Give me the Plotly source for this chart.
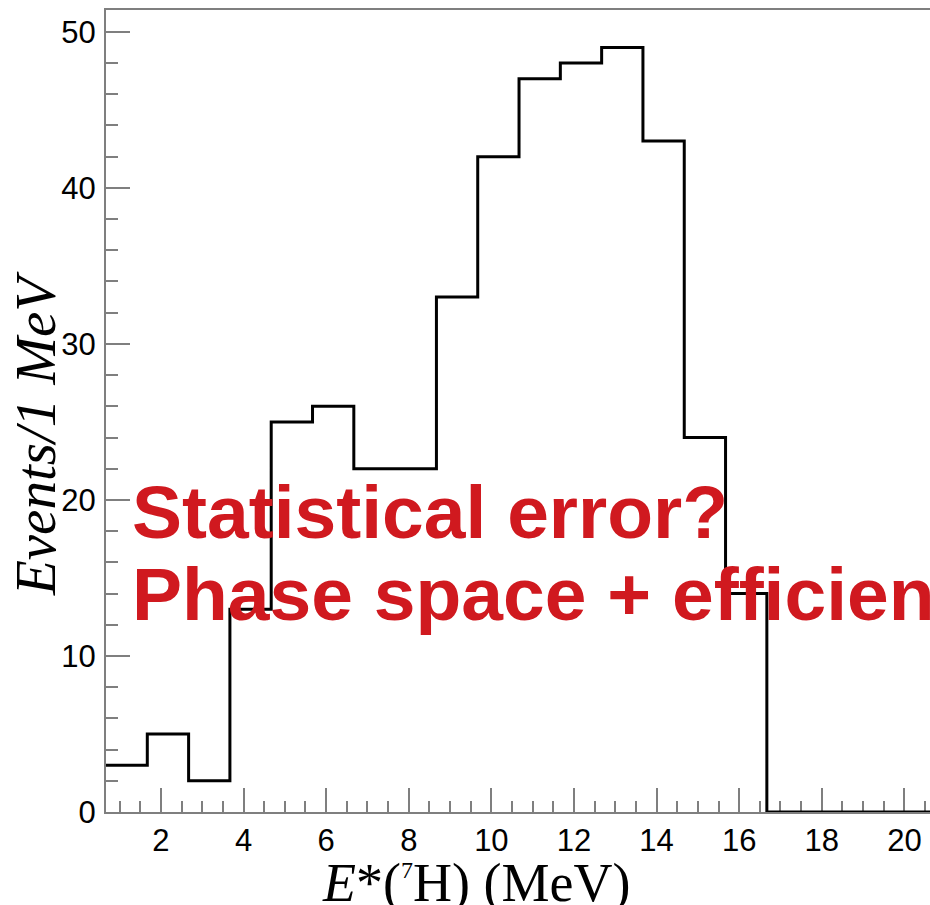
import plotly.graph_objects as go

# Histogram data (1 MeV bins)
bin_edges = [0.67, 1.67, 2.67, 3.67, 4.67, 5.67, 6.67, 7.67, 8.67, 9.67, 10.67,
             11.67, 12.67, 13.67, 14.67, 15.67, 16.67, 17.67, 18.67, 19.67, 20.67]
counts = [3, 5, 2, 13, 25, 26, 22, 22, 33, 42, 47, 48, 49, 43, 24, 14, 0, 0, 0, 0]

x_tick_vals = [2, 4, 6, 8, 10, 12, 14, 16, 18, 20]
y_tick_vals = [0, 10, 20, 30, 40, 50]

x_title = "<i>E</i>*(<sup><span style='font-size:24px'>7</span></sup>H) (MeV)"
y_title = "<i>Events/1 MeV</i>"
note_line1 = "Statistical error?"
note_line2 = "Phase space + efficiency"

W, H = 930, 905
L, R, T, B = 106, 0, 10, 93
pw = W - L - R
ph = H - T - B


def px_x(p):
    return (p - L) / pw


def px_y(p):
    return (H - B - p) / ph


fig = go.Figure()
fig.add_trace(go.Scatter(
    x=bin_edges,
    y=counts + [counts[-1]],
    mode="lines",
    line=dict(shape="hv", color="black", width=3),
    cliponaxis=False,
    showlegend=False,
    hoverinfo="skip",
))

axis_col = "#7f7f7f"
fig.update_layout(
    width=W, height=H,
    margin=dict(l=L, r=R, t=T, b=B, pad=0),
    paper_bgcolor="white", plot_bgcolor="white",
    xaxis=dict(
        range=[0.67, 20.62],
        showgrid=False, zeroline=False,
        showline=True, linecolor=axis_col, linewidth=2, mirror=True,
        ticks="inside", ticklen=24, tickwidth=1.5, tickcolor=axis_col,
        tickvals=x_tick_vals,
        tickfont=dict(family="Liberation Sans", size=31, color="black"),
        minor=dict(dtick=0.5, tick0=0, ticks="inside", ticklen=11,
                   tickwidth=1.5, tickcolor=axis_col),
        layer="below traces",
    ),
    yaxis=dict(
        range=[0, 51.4],
        showgrid=False, zeroline=False,
        showline=True, linecolor=axis_col, linewidth=2,
        ticks="inside", ticklen=24, tickwidth=1.5, tickcolor=axis_col,
        tickvals=y_tick_vals,
        tickfont=dict(family="Liberation Sans", size=31, color="black"),
        ticklabelstandoff=2,
        minor=dict(dtick=2, tick0=0, ticks="inside", ticklen=12,
                   tickwidth=1.5, tickcolor=axis_col),
        layer="below traces",
    ),
)

# axis titles
fig.add_annotation(
    text=x_title, xref="paper", yref="paper",
    x=px_x(476), y=px_y(851), xanchor="center", yanchor="top",
    showarrow=False,
    font=dict(family="Liberation Serif", size=54, color="black"),
)
fig.add_annotation(
    text=y_title, xref="paper", yref="paper", textangle=-90,
    x=px_x(36), y=px_y(434), xanchor="center", yanchor="middle",
    showarrow=False,
    font=dict(family="Liberation Serif", size=57, color="black"),
)

red = "#d0191f"
for txt, base_px in [(note_line1, 539), (note_line2, 621)]:
    fig.add_annotation(
        text="<b>" + txt + "</b>",
        xref="paper", yref="paper",
        x=px_x(130), y=px_y(base_px + 17),
        xanchor="left", yanchor="bottom",
        showarrow=False,
        font=dict(family="Liberation Sans", size=75, color=red),
    )

fig.write_html("out.html")
